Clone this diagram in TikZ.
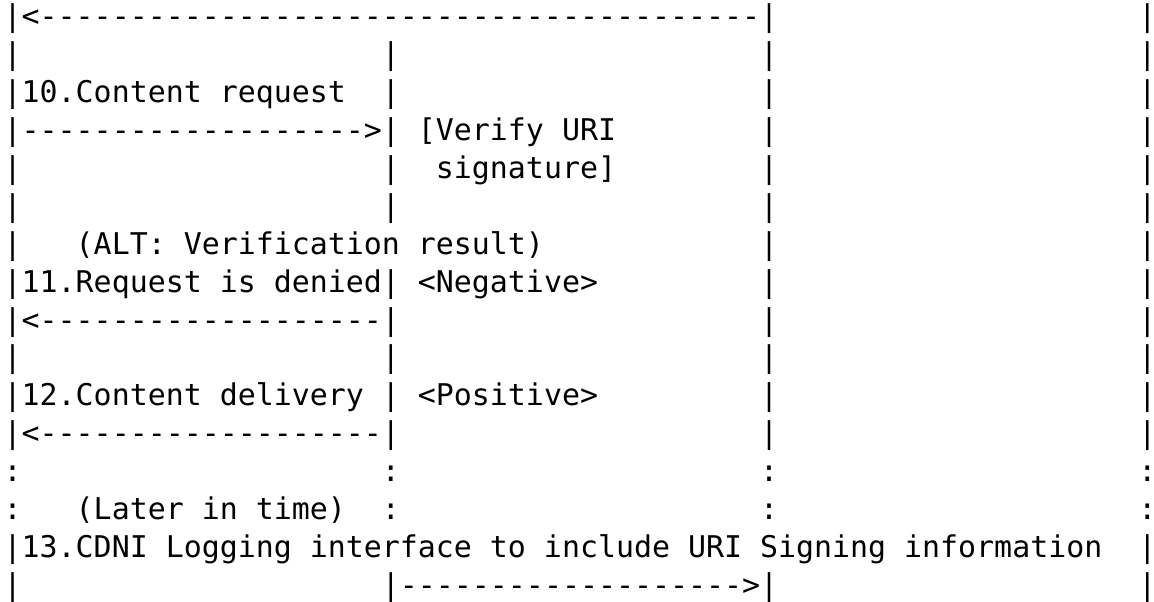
\documentclass[tikz,border=0pt]{standalone}
\usepackage{fontspec}
\setmonofont{DejaVu Sans Mono}
\begin{document}
\begin{tikzpicture}[x=6.02pt,y=-12.67pt,
		txt/.style={anchor=base west,inner sep=0pt,outer sep=0pt,
			font=\ttfamily\fontsize{10}{12}\selectfont\frenchspacing}]

		% Page frame
		\useasboundingbox (-0.205,0.294) rectangle (63.87,16.175);

		% Lifelines (one bar per row)
		\foreach \c/\rows in {0/{1,2,3,4,5,6,7,8,9,10,11,12,15,16},
			21/{2,3,4,5,6,8,9,10,11,12,16},
			42/{1,2,3,4,5,6,7,8,9,10,11,12,16},
			63/{1,2,3,4,5,6,7,8,9,10,11,12,15,16}}
			\foreach \r in \rows
				\node[txt] (bar-\c-\r) at (\c,\r) {|};

		% Dotted part of the lifelines
		\foreach \c in {0,21,42,63}
			\foreach \r in {13,14}
				\node[txt] (dots-\c-\r) at (\c,\r) {:};

		% Arrow back to the start
		\node[txt] (arr1) at (1,1) {<----------------------------------------};

		% 10. Content request
		\node[txt] (msg10) at (1,3) {10.Content request};
		\node[txt] (arr10) at (1,4) {------------------->};

		% Verify URI signature
		\node[txt] (verify) at (23,4) {[Verify URI};
		\node[txt] (verify2) at (24,5) {signature]};

		% ALT block
		\node[txt] (alt) at (4,7) {(ALT: Verification result)};

		% 11. Request is denied
		\node[txt] (msg11) at (1,8) {11.Request is denied};
		\node[txt] (neg) at (23,8) {<Negative>};
		\node[txt] (arr11) at (1,9) {<-------------------};

		% 12. Content delivery
		\node[txt] (msg12) at (1,11) {12.Content delivery};
		\node[txt] (pos) at (23,11) {<Positive>};
		\node[txt] (arr12) at (1,12) {<-------------------};

		% Later in time
		\node[txt] (later) at (4,14) {(Later in time)};

		% 13. CDNI Logging interface
		\node[txt] (msg13) at (1,15) {13.CDNI Logging interface to include URI Signing information};
		\node[txt] (arr13) at (22,16) {------------------->};

	\end{tikzpicture}
\end{document}
